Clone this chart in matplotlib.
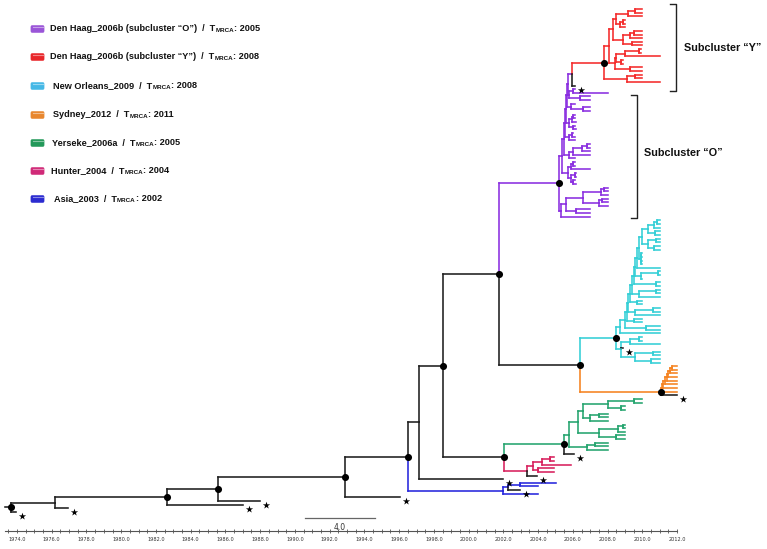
import re
import numpy as np
import matplotlib
matplotlib.use("Agg")
import matplotlib.pyplot as plt
from matplotlib.collections import LineCollection
from matplotlib.patches import FancyBboxPatch
import matplotlib.transforms as mtransforms

# ---------------- data (node times in calendar years) ----------------
# Newick-like strings: "(children)TIME[CLADE]#" ; '*' = black tip marked with asterisk, '#' = supported node (dot)
red_g1 = "(((2010.0,2010.0)2009.6,2010.0)2009.2,((2009.0,2009.0)2008.9,2009.0)2008.7)2008.5"
red_g2 = "(((2010.0,2010.0)2009.5,2010.0)2009.3,(2010.0,2010.0)2009.4)2008.9"
red_g3 = "(((2009.9,2009.9)2009.8,2011.0)2009.0,(2008.9,2008.9)2008.8)2008.5"
red_g4 = "(2010.0,2010.0)2009.3"
red_low = "((2010.0,2010.0)2009.6,2011.0)2009.1"
red_clade = f"((({red_g1},{red_g2})2008.3,({red_g3},{red_g4})2008.4)2008.1,{red_low})2007.8[Y]#"

purple_subs = [
    "((2006.1,2008.0)2006.0,(2007.0,2007.0)2006.4)2005.8",
    "(2006.1,(2007.0,2007.0)2006.6)2005.9",
    "(((2006.1,2006.1)2006.0,2006.2)2005.95,(2006.1,2006.2)2006.0)2005.8",
    "((2006.0,2006.1)2005.95,2006.1)2005.8",
    "((((2007.0,2007.0)2006.8,2007.0)2006.5,2007.0)2006.0,2006.1)2005.8",
    "(((2006.1,2006.1)2006.0,2007.0)2005.9,((2006.2,2006.2)2006.1,(2006.1,2006.2)2006.0)2005.9)2005.7",
]
purple_ladder_times = [2005.7, 2005.65, 2005.6, 2005.55, 2005.5, 2005.4]
purple_S = "((((2008.0,2008.0)2007.8,2008.0)2007.6,((2008.0,2008.0)2007.7,2008.0)2007.5)2006.6,(2007.0,2007.0)2006.2)2005.6"
purple_top = f"({red_clade},2006.1*)2005.95"

cyan_groups = [
    "((2011.0,2011.0)2010.8,(2011.0,2011.0)2010.7)2010.3",
    "((2010.0,2010.0)2009.95,(2010.0,2010.0)2009.95)2009.9",
    "2011.0",
    "((2011.0,2011.0)2010.9,2010.0)2009.9",
    "(2011.0,2011.0)2010.8",
    "((2011.0,2011.0)2010.8,2011.0)2009.8",
    "(2010.0,2010.0)2009.7",
    "((2011.0,2011.0)2010.6,2011.0)2009.6",
    "(2010.0,2010.0)2009.5",
    "(2011.0,2011.0)2010.2",
    "2011.0",
]
cyan_first = "(((2011.0,2011.0)2010.85,2011.0)2010.7,(2011.0,2011.0)2010.75)2010.3"
cyan_ladder_times = [2010.0, 2009.8, 2009.7, 2009.6, 2009.5, 2009.4, 2009.3, 2009.2, 2009.1, 2009.0, 2008.7]
cyan_lower = "(((2010.0,2010.0)2009.8,2011.0)2009.3,2008.9*,((2011.0,2011.0)2010.6,(2011.0,2011.0)2010.5)2009.6)2008.8"

orange_ladder_times = [2011.7, 2011.6, 2011.5, 2011.4, 2011.3, 2011.2, 2011.15]
orange_tip = 2012.0

green_upper = ("((((2010.0,2010.0)2009.5,(2009.0,2009.0)2008.8)2008.0,((2008.0,2008.0)2007.5,2008.0)2007.0)2006.6,"
               "(((2009.0,2009.0)2008.9,2009.0)2008.6,(2009.0,2009.0)2008.5)2007.5)2006.3")
green_lower = "((2008.0,2008.0)2007.3,2008.0)2006.8"
hunter_clade = "((((2004.9,2004.9)2004.7,2005.9)2004.2,(2004.9,2004.9)2004.0)2003.7,2003.95*)2003.36[H]"
asia_clade = "(((2005.03,2003.99)2002.96,2002.96*)2002.27,2003.99)2001.98[A]"

root_stem_start = 1973.3

# legend
legend_names = ["Den Haag_2006b (subcluster “O”)", "Den Haag_2006b (subcluster “Y”)", "New Orleans_2009",
                "Sydney_2012", "Yerseke_2006a", "Hunter_2004", "Asia_2003"]
legend_tmrca = ["2005", "2008", "2008", "2011", "2005", "2004", "2002"]
legend_keys = ["O", "Y", "N", "S", "G", "H", "A"]
clade_colors = {"O": "#8a2ee0", "Y": "#f42a2a", "N": "#33cfd6", "S": "#f5821f",
                "G": "#24a46e", "H": "#d81f5c", "A": "#2626dc"}
legend_icon_colors = {"O": "#9a55d8", "Y": "#e8262a", "N": "#45b8e6", "S": "#e8872e",
                      "G": "#23995a", "H": "#d02a78", "A": "#2b2bd0"}
BLACK = "#1e1e1e"

# ---------------- assemble tree ----------------
u = purple_top
for sub, t in zip(purple_subs, purple_ladder_times):
    u = f"({u},{sub}){t}"
purple_clade = f"({u},({purple_S},2007.0)2005.3)2005.2[O]#"

u = cyan_first
for g, t in zip(cyan_groups, cyan_ladder_times):
    u = f"({u},{g}){t}"
cyan_clade = f"({u},{cyan_lower})2008.48[N]#"

u = None
for t in orange_ladder_times:
    u = f"({orange_tip},{orange_tip}){t}" if u is None else f"({u},{orange_tip}){t}"
orange_clade = f"({u},{orange_tip}*)2011.08[S]#"

green_clade = f"(({green_upper},{green_lower})2005.8,2006.07*)2005.49[G]#"

n504 = f"({green_clade},{hunter_clade})2002.04#"
n580 = f"({cyan_clade},{orange_clade})2006.41#"
n499 = f"({purple_clade},{n580})2001.75#"
n443 = f"({n499},{n504})1998.53#"
n419 = f"({n443},2001.98*)1997.14"
n407 = f"({n419},{asia_clade})1996.49#"
n345 = f"({n407},1996.05*)1992.88#"
n218 = f"({n345},1988.0*)1985.57#"
n167 = f"({n218},1987.01*)1982.64#"
n55 = f"({n167},1976.94*)1976.19"
tree_str = f"({n55},1973.95*)1973.65#"


def parse_tree(s):
    s = re.sub(r"\s+", "", s)
    pos = 0
    num = re.compile(r"[0-9.]+")

    def node():
        nonlocal pos
        ch = []
        if s[pos] == "(":
            pos += 1
            ch.append(node())
            while s[pos] == ",":
                pos += 1
                ch.append(node())
            pos += 1
        m = num.match(s, pos)
        n = {"t": float(m.group()), "ch": ch, "tag": None, "star": False, "dot": False}
        pos = m.end()
        while pos < len(s) and s[pos] in "[*#":
            if s[pos] == "[":
                j = s.index("]", pos)
                n["tag"] = s[pos + 1:j]
                pos = j + 1
            elif s[pos] == "*":
                n["star"] = True
                pos += 1
            else:
                n["dot"] = True
                pos += 1
        return n

    return node()


root = parse_tree(tree_str)

leaves = []


def collect(n):
    if not n["ch"]:
        leaves.append(n)
    for c in n["ch"]:
        collect(c)


collect(root)
TOP_Y, BOT_Y = 9.0, 512.0
sp = (BOT_Y - TOP_Y) / (len(leaves) - 1)
for i, lf in enumerate(leaves):
    lf["y"] = TOP_Y + i * sp


def set_y(n):
    for c in n["ch"]:
        set_y(c)
    if n["ch"]:
        n["y"] = (n["ch"][0]["y"] + n["ch"][-1]["y"]) / 2


set_y(root)


def assign(n, inherited):
    if n["star"]:
        n["col"] = BLACK
    elif n["tag"]:
        n["col"] = clade_colors[n["tag"]]
    else:
        n["col"] = inherited
    for c in n["ch"]:
        assign(c, n["col"])


assign(root, BLACK)

segs, cols, dots, stars = [], [], [], []


def walk(n, parent):
    if parent is not None:
        segs.append([(parent["t"], n["y"]), (n["t"], n["y"])])
        cols.append(n["col"])
        segs.append([(parent["t"], parent["y"]), (parent["t"], n["y"])])
        cols.append(n["col"])
    if n["dot"]:
        dots.append((n["t"], n["y"]))
    if n["star"]:
        stars.append((n["t"], n["y"]))
    for c in n["ch"]:
        walk(c, n)


walk(root, None)
segs.append([(root_stem_start, root["y"]), (root["t"], root["y"])])
cols.append(BLACK)

# ---------------- drawing ----------------
W, H = 767, 549
fig = plt.figure(figsize=(W / 100, H / 100), dpi=100)
PX_PER_YEAR = 17.37
X0 = 1974 - 17 / PX_PER_YEAR
X1 = X0 + W / PX_PER_YEAR
ax = fig.add_axes([0, 0, 1, 1])
ax.set_xlim(X0, X1)
ax.set_ylim(H, 0)
ax.patch.set_alpha(0)

lc = LineCollection(segs, colors=cols, linewidths=1.15, capstyle="projecting")
ax.add_collection(lc)
dx, dy = zip(*dots)
ax.scatter(dx, dy, s=26, color="black", zorder=5, linewidths=0)
off = mtransforms.ScaledTranslation(6 / 100, -4 / 100, fig.dpi_scale_trans)
sx, sy = zip(*stars)
ax.scatter(sx, sy, s=30, marker="*", color="black", zorder=5, linewidths=0,
           transform=ax.transData + off)

# time axis
for side in ("top", "left", "right"):
    ax.spines[side].set_visible(False)
ax.spines["bottom"].set_position(("data", 531))
ax.spines["bottom"].set_bounds(1973.3, 2012.0)
ax.spines["bottom"].set_color("#555555")
ax.spines["bottom"].set_linewidth(0.8)
major = np.arange(1974, 2013, 2)
ax.set_xticks(major)
ax.set_xticklabels([f"{v:.1f}" for v in major])
ax.set_xticks(np.arange(1973.5, 2012.01, 0.5), minor=True)
ax.tick_params(axis="x", which="both", direction="inout", length=3, width=0.6,
               colors="#555555", labelsize=3.6, pad=3, labelcolor="#333333")
ax.set_yticks([])

# scale bar (4 years)
ax.plot([1990.6, 1994.6], [518, 518], color="#666666", lw=0.9)
ax.text(1992.6, 523, "4.0", ha="center", va="top", fontsize=5.5, color="#333333")

# overlay in pixel units for annotations
ov = fig.add_axes([0, 0, 1, 1])
ov.set_xlim(0, W)
ov.set_ylim(H, 0)
ov.axis("off")
ov.patch.set_alpha(0)

FONT = "Liberation Sans"
legend_y = [29, 57, 86, 115, 143, 171, 199]
legend_x = [50, 50, 53, 53, 52, 51, 54]
for key, name, tm, y, x in zip(legend_keys, legend_names, legend_tmrca, legend_y, legend_x):
    c = legend_icon_colors[key]
    ov.add_patch(FancyBboxPatch((31.5, y - 3), 12, 6, boxstyle="round,pad=0.6,rounding_size=1.5",
                                facecolor=c, edgecolor=c, lw=0.3))
    ov.plot([32.5, 42.5], [y - 2.2, y - 2.2], color="white", alpha=0.45, lw=0.8)
    t1 = ov.text(x, y + 3.8, name + "  /  T", fontsize=6.6, fontweight="bold", family=FONT,
                 va="bottom", ha="left", color="#111111")
    t2 = ov.annotate("MRCA", xy=(1, 0), xycoords=t1, va="bottom", ha="left", fontsize=4.5,
                     fontweight="bold", family=FONT, color="#111111")
    ov.annotate(": " + tm, xy=(1, 0), xycoords=t2, va="bottom", ha="left", fontsize=6.6,
                fontweight="bold", family=FONT, color="#111111")

# subcluster brackets and labels
ov.plot([670, 676, 676, 670], [4, 4, 91, 91], color="#222222", lw=1.0)
ov.plot([631, 637, 637, 631], [95, 95, 218, 218], color="#222222", lw=1.0)
ov.text(684, 48, "Subcluster “Y”", fontsize=7.8, fontweight="bold", family=FONT,
        va="center", ha="left", color="#111111")
ov.text(644, 153, "Subcluster “O”", fontsize=7.8, fontweight="bold", family=FONT,
        va="center", ha="left", color="#111111")

fig.savefig("out.png", dpi=100)
